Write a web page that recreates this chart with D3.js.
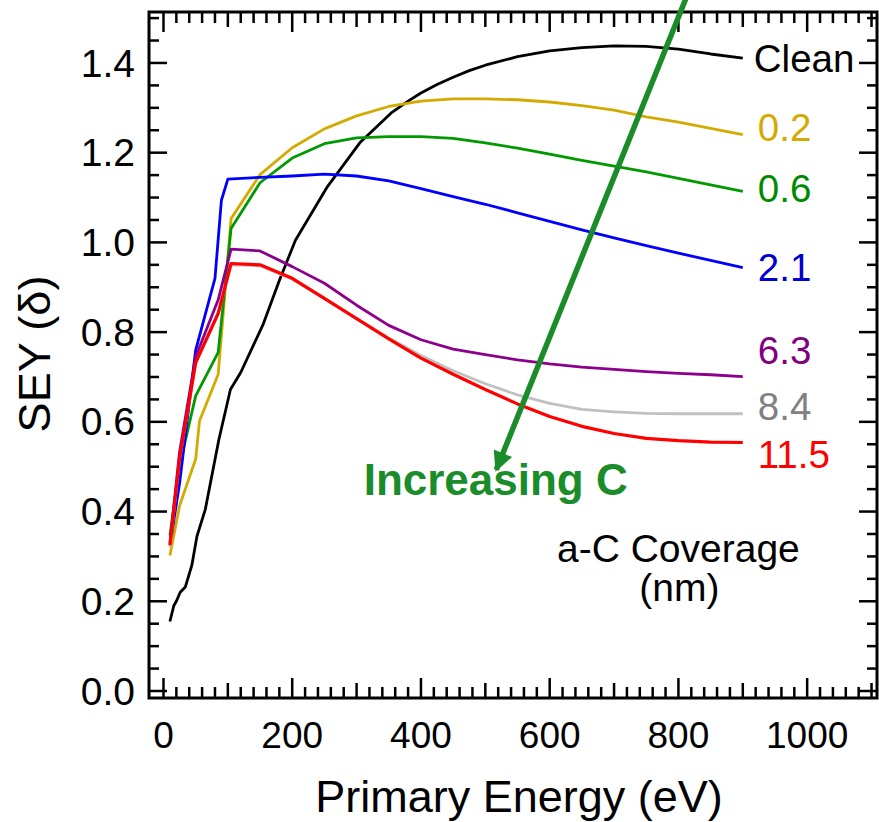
<!DOCTYPE html>
<html>
<head>
<meta charset="utf-8">
<script src="https://cdn.jsdelivr.net/npm/d3@7"></script>
<style>
  html, body { margin: 0; padding: 0; background: #fff; }
  svg { display: block; }
  text { font-family: "Liberation Sans", Arial, sans-serif; }
</style>
</head>
<body>
<svg id="chart" width="879" height="822"></svg>
<script>
// Secondary electron yield vs primary energy for increasing a-C coverage

const seriesNames = ["Clean", "0.2", "0.6", "2.1", "6.3", "8.4", "11.5"];
const seriesColors = ["#000000", "#d4aa00", "#009a00", "#0000ff", "#8c008c", "#c0c0c0", "#ff0000"];
const labelColors  = ["#000000", "#d4aa00", "#008a00", "#0000d0", "#800080", "#808080", "#ff0000"];

const cleanE = [10, 16, 20, 26, 34, 44, 52, 65, 86, 104, 120, 155, 180, 205, 255, 305, 355, 380, 400, 425, 450, 475, 500, 550, 600, 650, 700, 750, 800, 850, 900];
const cleanY = [0.155, 0.19, 0.2, 0.22, 0.232, 0.28, 0.345, 0.405, 0.56, 0.672, 0.71, 0.818, 0.915, 1.005, 1.125, 1.222, 1.29, 1.315, 1.333, 1.352, 1.368, 1.383, 1.395, 1.414, 1.427, 1.434, 1.438, 1.437, 1.431, 1.42, 1.411];

const c02E = [10, 25, 50, 56, 85, 105, 150, 200, 250, 300, 350, 400, 450, 500, 550, 600, 650, 700, 750, 800, 850, 900];
const c02Y = [0.302, 0.413, 0.517, 0.602, 0.706, 1.053, 1.151, 1.211, 1.253, 1.282, 1.303, 1.315, 1.32, 1.32, 1.318, 1.313, 1.305, 1.295, 1.28, 1.268, 1.254, 1.24];

const c06E = [10, 25, 50, 85, 105, 150, 200, 250, 300, 350, 400, 450, 500, 550, 600, 650, 700, 750, 800, 850, 900];
const c06Y = [0.347, 0.502, 0.658, 0.755, 1.031, 1.133, 1.188, 1.22, 1.233, 1.236, 1.236, 1.232, 1.222, 1.21, 1.197, 1.183, 1.17, 1.157, 1.143, 1.128, 1.114];

const c21E = [12, 25, 50, 80, 90, 100, 150, 200, 250, 300, 350, 400, 450, 500, 550, 600, 650, 700, 750, 800, 850, 900];
const c21Y = [0.343, 0.463, 0.76, 0.92, 1.094, 1.141, 1.145, 1.148, 1.152, 1.148, 1.137, 1.12, 1.102, 1.085, 1.066, 1.047, 1.028, 1.01, 0.993, 0.976, 0.96, 0.944];

const c63E = [10, 25, 50, 85, 105, 150, 200, 250, 300, 350, 400, 450, 500, 550, 600, 650, 700, 750, 800, 850, 900];
const c63Y = [0.329, 0.533, 0.745, 0.872, 0.985, 0.981, 0.946, 0.909, 0.86, 0.815, 0.783, 0.762, 0.75, 0.738, 0.729, 0.722, 0.717, 0.712, 0.708, 0.705, 0.701];

const c84E = [10, 25, 50, 85, 105, 150, 200, 250, 300, 350, 400, 450, 500, 550, 600, 650, 700, 750, 800, 850, 900];
const c84Y = [0.32, 0.517, 0.73, 0.84, 0.95, 0.948, 0.918, 0.874, 0.83, 0.787, 0.748, 0.714, 0.685, 0.66, 0.641, 0.628, 0.622, 0.619, 0.618, 0.618, 0.618];

const c115E = [10, 25, 50, 85, 105, 150, 200, 250, 300, 350, 400, 450, 500, 550, 600, 650, 700, 750, 800, 850, 900];
const c115Y = [0.325, 0.519, 0.732, 0.842, 0.953, 0.95, 0.92, 0.875, 0.83, 0.785, 0.742, 0.706, 0.672, 0.64, 0.612, 0.59, 0.574, 0.563, 0.558, 0.555, 0.554];

// label baselines (in SEY units) beside the end of each curve
const labelSEY = [1.38, 1.225, 1.09, 0.915, 0.728, 0.605, 0.496];

const xTickLabels = [0, 200, 400, 600, 800, 1000];
const yTickLabels = [0.0, 0.2, 0.4, 0.6, 0.8, 1.0, 1.2, 1.4];

const seriesE = [cleanE, c02E, c06E, c21E, c63E, c84E, c115E];
const seriesY = [cleanY, c02Y, c06Y, c21Y, c63Y, c84Y, c115Y];

// ---- layout ----
const plotL = 149, plotR = 877, plotT = 12, plotB = 698;

const x = d3.scaleLinear().domain([-22.5, 1108.5]).range([plotL, plotR]);
const y = d3.scaleLinear().domain([-0.0156, 1.5136]).range([plotB, plotT]);

const svg = d3.select("#chart");

// curves (grey before purple/red so the red 11.5 nm curve sits on top of it)
const order = [0, 1, 2, 3, 4, 5, 6];
const drawOrder = [0, 1, 2, 3, 5, 4, 6];
const line = d3.line().x(d => x(d[0])).y(d => y(d[1]));

const curves = svg.append("g");
drawOrder.forEach(i => {
  const pts = seriesE[i].map((e, k) => [e, seriesY[i][k]]);
  curves.append("path")
    .datum(pts)
    .attr("fill", "none")
    .attr("stroke", seriesColors[i])
    .attr("stroke-width", i === 6 ? 3.2 : 2.8)
    .attr("stroke-linejoin", "round")
    .attr("d", line);
});

// series labels
order.forEach(i => {
  svg.append("text")
    .attr("x", x(seriesE[i][seriesE[i].length - 1]) + (i === 0 ? 11 : 15))
    .attr("y", y(labelSEY[i]))
    .attr("font-size", 38.5)
    .attr("fill", labelColors[i])
    .text(seriesNames[i]);
});

// frame
svg.append("rect")
  .attr("x", plotL).attr("y", plotT)
  .attr("width", plotR - plotL).attr("height", plotB - plotT)
  .attr("fill", "none").attr("stroke", "#000").attr("stroke-width", 3);

// ticks on all four sides
const ticks = svg.append("g").attr("stroke", "#000").attr("stroke-width", 2.5);
d3.range(0, 1101, 20).forEach(v => {
  const len = v % 200 === 0 ? 20 : (v % 100 === 0 ? 15 : 11);
  ticks.append("line").attr("x1", x(v)).attr("x2", x(v)).attr("y1", plotB).attr("y2", plotB - len);
  ticks.append("line").attr("x1", x(v)).attr("x2", x(v)).attr("y1", plotT).attr("y2", plotT + len);
});
d3.range(0, 31).forEach(k => {
  const v = k * 0.05;
  const len = k % 4 === 0 ? 18 : 10;
  ticks.append("line").attr("y1", y(v)).attr("y2", y(v)).attr("x1", plotL).attr("x2", plotL + len);
  ticks.append("line").attr("y1", y(v)).attr("y2", y(v)).attr("x1", plotR).attr("x2", plotR - len);
});

// tick labels
svg.append("g").selectAll("text").data(xTickLabels).join("text")
  .attr("x", d => x(d)).attr("y", 748)
  .attr("text-anchor", "middle").attr("font-size", 37)
  .text(d => d);
svg.append("g").selectAll("text").data(yTickLabels).join("text")
  .attr("x", 135).attr("y", d => y(d))
  .attr("dy", "0.35em")
  .attr("text-anchor", "end").attr("font-size", 39)
  .text(d => d.toFixed(1));

// axis titles
svg.append("text")
  .attr("x", 519).attr("y", 812)
  .attr("text-anchor", "middle").attr("font-size", 45)
  .text("Primary Energy (eV)");
svg.append("text")
  .attr("transform", "translate(50,354) rotate(-90)")
  .attr("text-anchor", "middle").attr("font-size", 45)
  .text("SEY (\u03b4)");

// coverage legend caption
svg.append("text")
  .attr("x", x(800) + 0).attr("y", y(0.287))
  .attr("text-anchor", "middle").attr("font-size", 39)
  .text("a-C Coverage");
svg.append("text")
  .attr("x", x(800) + 1).attr("y", y(0.2))
  .attr("text-anchor", "middle").attr("font-size", 39)
  .text("(nm)");

// "Increasing C" arrow
const arrowFrom = [812, 1.545];
const arrowTo = [517, 0.493];
const arrowColor = "#1a8c2a";
const defs = svg.append("defs");
defs.append("marker")
  .attr("id", "head")
  .attr("viewBox", "0 0 10 10")
  .attr("refX", 9).attr("refY", 5)
  .attr("markerWidth", 4.4).attr("markerHeight", 3.6)
  .attr("markerUnits", "strokeWidth")
  .attr("orient", "auto")
  .append("path").attr("d", "M0,0 L10,5 L0,10 Z").attr("fill", arrowColor);
svg.append("line")
  .attr("x1", x(arrowFrom[0])).attr("y1", y(arrowFrom[1]))
  .attr("x2", x(arrowTo[0])).attr("y2", y(arrowTo[1]))
  .attr("stroke", arrowColor).attr("stroke-width", 5.5)
  .attr("marker-end", "url(#head)");
svg.append("text")
  .attr("x", x(311)).attr("y", y(0.437))
  .attr("font-family", "Lato, 'Open Sans', sans-serif")
  .attr("font-weight", "bold").attr("font-size", 44)
  .attr("fill", arrowColor)
  .text("Increasing C");
</script>
</body>
</html>
